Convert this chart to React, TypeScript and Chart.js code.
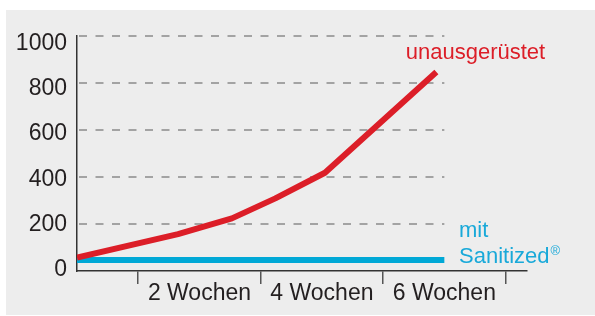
import React, { useEffect, useRef } from 'react';
import { Chart, registerables } from 'chart.js';

Chart.register(...registerables);

// ---- data ----
const WEEKS_RED = [0, 1.65, 2.53, 3.24, 4.05, 5.87];
const VALUES_RED = [57, 157, 224, 309, 418, 847];
const WEEKS_BLUE = [0, 6];
const VALUES_BLUE = [47, 47];
const Y_TICKS = [0, 200, 400, 600, 800, 1000];
const GRID_VALUES = [200, 400, 600, 800, 1000];
const GRID_END_WEEK = 6;
const X_TICK_MARKS = [1, 3, 5, 7];
const X_LABEL_WEEKS = [2, 4, 6];
const X_LABELS = ['2 Wochen', '4 Wochen', '6 Wochen'];
const NAME_RED = 'unausgerüstet';
const NAME_BLUE_1 = 'mit';
const NAME_BLUE_2 = 'Sanitized';
const NAME_BLUE_MARK = '®';

// ---- styles ----
const FONT = "'Liberation Sans', Arial, Helvetica, sans-serif";
const RED = '#dc1e28';
const BLUE = '#00a8d6';
const BLUE_TEXT = '#19a9d9';
const TEXT = '#231f20';

// annotation anchors in data units (week, value)
const RED_LABEL_AT = { x: 5.37, y: 902 };
const BLUE_LABEL1_AT = { x: 6.24, y: 145 };
const BLUE_LABEL2_AT = { x: 6.24, y: 34 };
const BLUE_MARK_BASE = 68;

const dashGrid = {
  id: 'dashGrid',
  beforeDatasetsDraw(chart: any) {
    const { ctx, scales } = chart;
    const x = scales.x;
    const y = scales.y;
    ctx.save();
    ctx.strokeStyle = '#8a8a8a';
    ctx.lineWidth = 1.5;
    ctx.setLineDash([8, 8.5]);
    const x0 = x.getPixelForValue(0) + 2;
    const x1 = x.getPixelForValue(GRID_END_WEEK);
    GRID_VALUES.forEach((v) => {
      const py = y.getPixelForValue(v);
      ctx.beginPath();
      ctx.moveTo(x0, py);
      ctx.lineTo(x1, py);
      ctx.stroke();
    });
    ctx.restore();
  },
};

const labels = {
  id: 'seriesLabels',
  afterDatasetsDraw(chart: any) {
    const { ctx, scales } = chart;
    const x = scales.x;
    const y = scales.y;
    ctx.save();
    ctx.textAlign = 'left';
    ctx.textBaseline = 'alphabetic';
    ctx.font = `22px ${FONT}`;
    ctx.fillStyle = RED;
    ctx.fillText(NAME_RED, x.getPixelForValue(RED_LABEL_AT.x), y.getPixelForValue(RED_LABEL_AT.y));
    ctx.fillStyle = BLUE_TEXT;
    ctx.fillText(NAME_BLUE_1, x.getPixelForValue(BLUE_LABEL1_AT.x), y.getPixelForValue(BLUE_LABEL1_AT.y));
    const sx = x.getPixelForValue(BLUE_LABEL2_AT.x);
    ctx.fillText(NAME_BLUE_2, sx, y.getPixelForValue(BLUE_LABEL2_AT.y));
    const w = ctx.measureText(NAME_BLUE_2).width;
    ctx.font = `13px ${FONT}`;
    ctx.fillText(NAME_BLUE_MARK, sx + w + 1, y.getPixelForValue(BLUE_MARK_BASE));
    ctx.restore();
  },
};

export default function App() {
  const ref = useRef<HTMLCanvasElement | null>(null);

  useEffect(() => {
    if (!ref.current) return;
    const chart = new Chart(ref.current, {
      type: 'line',
      data: {
        datasets: [
          {
            label: NAME_RED,
            data: WEEKS_RED.map((w, i) => ({ x: w, y: VALUES_RED[i] })),
            borderColor: RED,
            borderWidth: 6,
            pointRadius: 0,
            tension: 0,
            borderJoinStyle: 'round',
            borderCapStyle: 'butt',
            xAxisID: 'x',
            yAxisID: 'y',
          },
          {
            label: NAME_BLUE_2,
            data: WEEKS_BLUE.map((w, i) => ({ x: w, y: VALUES_BLUE[i] })),
            borderColor: BLUE,
            borderWidth: 6,
            pointRadius: 0,
            borderCapStyle: 'butt',
            xAxisID: 'x',
            yAxisID: 'y',
          },
        ],
      },
      options: {
        responsive: false,
        animation: false,
        layout: { padding: { left: 0, top: 36, right: 68, bottom: 0 } },
        plugins: { legend: { display: false }, tooltip: { enabled: false } },
        scales: {
          x: {
            type: 'linear',
            min: 0,
            max: 7.35,
            afterBuildTicks: (s: any) => {
              s.ticks = [...X_TICK_MARKS, ...X_LABEL_WEEKS]
                .sort((a, b) => a - b)
                .map((v) => ({ value: v }));
            },
            afterFit: (s: any) => {
              s.height = 45;
            },
            grid: {
              display: true,
              drawOnChartArea: false,
              drawTicks: true,
              tickLength: 13,
              lineWidth: 1.5,
              color: (c: any) =>
                c.tick && X_TICK_MARKS.includes(c.tick.value) ? '#555555' : 'rgba(0,0,0,0)',
            },
            border: { display: true, color: '#333333', width: 1.5 },
            ticks: {
              autoSkip: false,
              maxRotation: 0,
              padding: -4,
              color: TEXT,
              font: { family: FONT, size: 23 },
              callback: (v: any) => {
                const i = X_LABEL_WEEKS.indexOf(Number(v));
                return i >= 0 ? X_LABELS[i] : '';
              },
            },
          },
          y: {
            type: 'linear',
            position: 'left',
            weight: 0,
            min: 0,
            max: 1000,
            ticks: { display: false },
            grid: { display: false, drawTicks: false },
            border: { display: true, color: '#333333', width: 1.5 },
            afterFit: (s: any) => {
              s.width = 0;
            },
          },
          yL: {
            type: 'linear',
            position: 'left',
            weight: 1,
            min: -6.6,
            max: 1035,
            afterBuildTicks: (s: any) => {
              s.ticks = Y_TICKS.map((v) => ({ value: v }));
            },
            grid: { display: false, drawTicks: false },
            border: { display: false },
            ticks: {
              padding: 10,
              color: TEXT,
              font: { family: FONT, size: 23 },
              callback: (v: any) => String(v),
            },
            afterFit: (s: any) => {
              s.width = 77;
            },
          },
        },
      },
      plugins: [dashGrid, labels],
    } as any);
    return () => chart.destroy();
  }, []);

  return (
    <div style={{ position: 'absolute', left: 0, top: 0, width: 595, height: 316 }}>
      <div
        style={{
          position: 'absolute',
          left: 6,
          top: 10,
          width: 589,
          height: 305,
          background: '#ededed',
        }}
      />
      <canvas
        ref={ref}
        width={595}
        height={316}
        style={{ position: 'absolute', left: 0, top: 0, width: 595, height: 316 }}
      />
    </div>
  );
}
